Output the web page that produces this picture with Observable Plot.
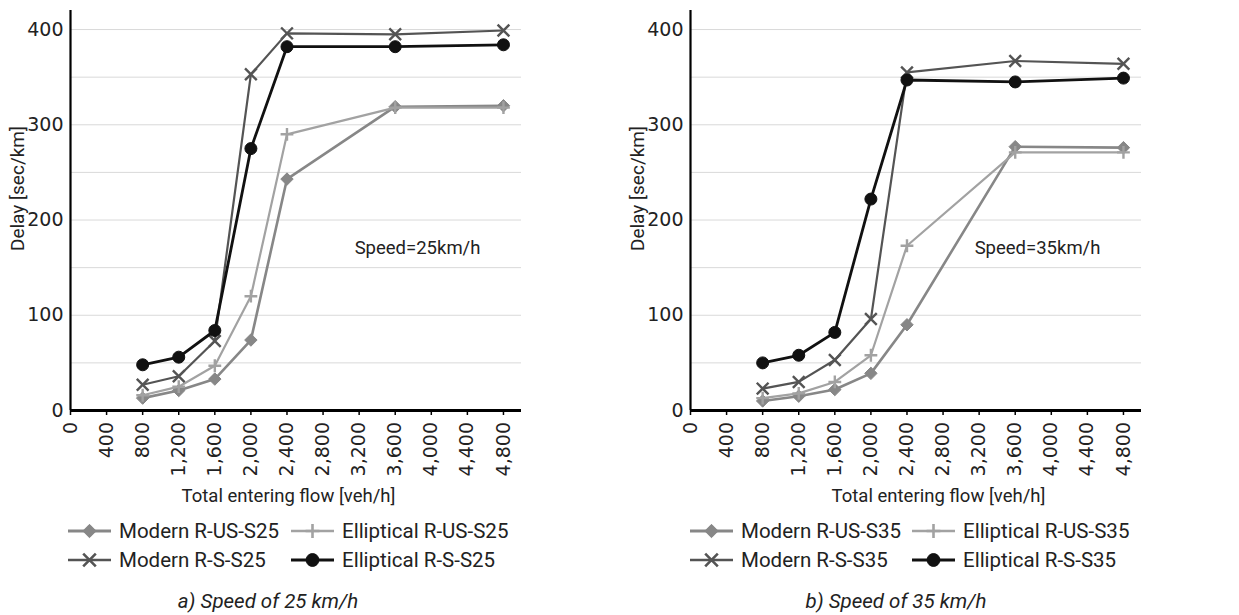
<!DOCTYPE html>
<html><head><meta charset="utf-8">
<script src="https://cdn.jsdelivr.net/npm/d3@7"></script>
<script src="https://cdn.jsdelivr.net/npm/@observablehq/plot@0.6"></script>
<style>
body{margin:0;background:#fff;font-family:Roboto,"Liberation Sans",sans-serif;color:#222}
#wrap{position:relative;width:1239px;height:615px;overflow:hidden}
.panel{position:absolute;top:0;width:620px;height:615px}
.panel svg.chart{position:absolute;left:0;top:0}
.leg{position:absolute;display:flex;align-items:center;font-size:20.5px;line-height:20px;white-space:nowrap}
.leg svg{display:block;margin-right:8px}
.cap{position:absolute;font-style:italic;font-size:20.5px;white-space:nowrap;transform:translate(-50%,-50%)}
</style></head>
<body><div id="wrap"></div>
<script>
// ---- data ----
const flows = [800, 1200, 1600, 2000, 2400, 3600, 4800];
const xTicks = [0, 400, 800, 1200, 1600, 2000, 2400, 2800, 3200, 3600, 4000, 4400, 4800];
const yTicks = [0, 100, 200, 300, 400];

const names25 = ["Modern R-US-S25", "Elliptical R-US-S25", "Modern R-S-S25", "Elliptical R-S-S25"];
const modernUS25 = [13, 21, 33, 74, 243, 319, 320];
const ellipticalUS25 = [16, 25, 47, 120, 290, 318, 318];
const modernS25 = [27, 36, 73, 353, 396, 395, 399];
const ellipticalS25 = [48, 56, 84, 275, 382, 382, 384];

const names35 = ["Modern R-US-S35", "Elliptical R-US-S35", "Modern R-S-S35", "Elliptical R-S-S35"];
const modernUS35 = [10, 15, 22, 39, 90, 277, 276];
const ellipticalUS35 = [13, 18, 30, 58, 173, 271, 271];
const modernS35 = [23, 30, 53, 96, 355, 367, 364];
const ellipticalS35 = [50, 58, 82, 222, 347, 345, 349];

const captions = ["a) Speed of 25 km/h", "b) Speed of 35 km/h"];
const notes = ["Speed=25km/h", "Speed=35km/h"];
const xTitle = "Total entering flow [veh/h]";
const yTitle = "Delay [sec/km]";

// ---- styles ----
const colors = ["#878787", "#a2a2a2", "#545454", "#111111"];
const widths = [2.6, 2.2, 2.2, 2.8];
const symbols = ["diamond2", "plus", "times", "circle"];
const d3symbols = [d3.symbolDiamond2, d3.symbolPlus, d3.symbolTimes, d3.symbolCircle];
const radii = [5.6, 4.2, 5.4, 6];
const filled = [true, false, false, true];

const panels = [
  {names: names25, values: [modernUS25, ellipticalUS25, modernS25, ellipticalS25], left: 0, note: notes[0], caption: captions[0], xTitleX: 288, capX: 268, legX: [68, 291], noteX: 3150},
  {names: names35, values: [modernUS35, ellipticalUS35, modernS35, ellipticalS35], left: 620, note: notes[1], caption: captions[1], xTitleX: 318, capX: 276, legX: [70, 292], noteX: 3150}
];

const wrap = document.getElementById("wrap");
const W = 620, ML = 70, MR = 99, MT = 10, PB = 410, H = 515;
const plotCenterX = ML + (W - ML - MR) / 2;
const plotCenterY = MT + (PB - MT) / 2;

panels.forEach(p => {
  const div = document.createElement("div");
  div.className = "panel";
  div.style.left = p.left + "px";
  wrap.appendChild(div);

  const data = p.names.flatMap((name, i) => flows.map((f, j) => ({series: i, flow: f, delay: p.values[i][j]})));
  const marks = [
    Plot.gridY({ticks: d3.range(50, 401, 50), stroke: "#d9d9d9", strokeOpacity: 1, strokeWidth: 1}),
    Plot.axisY({ticks: yTicks, tickSize: 0, tickPadding: 7, label: null, fontSize: 19, fontFamily: "DejaVu Sans"}),
    Plot.axisX({ticks: xTicks, tickFormat: d3.format(","), tickRotate: -90, tickSize: 5, tickPadding: 6.5, label: null, fontSize: 19, fontFamily: "DejaVu Sans", strokeWidth: 1.5, stroke: "#000"}),
    Plot.ruleX([0], {stroke: "#000", strokeWidth: 2.2}),
    Plot.ruleY([0], {stroke: "#000", strokeWidth: 3})
  ];
  p.names.forEach((name, i) => {
    const sub = data.filter(d => d.series === i);
    marks.push(Plot.line(sub, {x: "flow", y: "delay", stroke: colors[i], strokeWidth: widths[i]}));
    marks.push(Plot.dot(sub, {x: "flow", y: "delay", symbol: () => symbols[i], r: radii[i],
      stroke: colors[i], strokeWidth: filled[i] ? 1 : 2.4, fill: filled[i] ? colors[i] : "none"}));
  });
  marks.push(Plot.text([p.note], {x: () => p.noteX, y: () => 171, textAnchor: "start", fontSize: 18.5, fill: "#222"}));
  marks.push(Plot.text([yTitle], {frameAnchor: "left", textAnchor: "middle", rotate: -90, dx: 17 - ML, dy: 188 - plotCenterY, fontSize: 19, fill: "#222"}));
  marks.push(Plot.text([xTitle], {frameAnchor: "bottom", textAnchor: "middle", lineAnchor: "middle", dx: p.xTitleX - plotCenterX, dy: 86, fontSize: 18.5, fill: "#222"}));

  const svg = Plot.plot({
    width: W, height: H,
    marginLeft: ML, marginRight: MR, marginTop: MT, marginBottom: H - PB,
    x: {domain: [0, 5000]},
    y: {domain: [0, 420]},
    style: {fontFamily: "Roboto, sans-serif", color: "#222", background: "transparent", overflow: "visible"},
    marks
  });
  svg.classList.add("chart");
  d3.select(svg).selectAll("g[aria-label*='tick label'] text")
    .style("font-family", "'DejaVu Sans', sans-serif").style("font-size", "19px").attr("fill", "#222");
  div.appendChild(svg);

  // legend: 2 columns x 2 rows, order as in reference
  const rowsY = [531, 559.5];
  const layout = [[0, 0, 0], [1, 1, 0], [2, 0, 1], [3, 1, 1]]; // series, col, row
  layout.forEach(([i, col, row]) => {
    const item = document.createElement("div");
    item.className = "leg";
    item.style.left = p.legX[col] + "px";
    item.style.top = (rowsY[row] - 11) + "px";
    item.style.height = "22px";
    const s = d3.create("svg").attr("width", 43).attr("height", 22);
    s.append("line").attr("x1", 0).attr("x2", 43).attr("y1", 11).attr("y2", 11)
      .attr("stroke", colors[i]).attr("stroke-width", widths[i] + 0.4);
    s.append("path").attr("transform", "translate(21.5,11)")
      .attr("d", d3.symbol(d3symbols[i], Math.PI * radii[i] * radii[i] * 1.15)())
      .attr("fill", filled[i] ? colors[i] : "none").attr("stroke", colors[i]).attr("stroke-width", filled[i] ? 1 : 2.6);
    item.appendChild(s.node());
    const t = document.createElement("span");
    t.textContent = p.names[i];
    item.appendChild(t);
    div.appendChild(item);
  });

  const cap = document.createElement("div");
  cap.className = "cap";
  cap.style.left = p.capX + "px";
  cap.style.top = "601px";
  cap.textContent = p.caption;
  div.appendChild(cap);
});
</script>
</body></html>
